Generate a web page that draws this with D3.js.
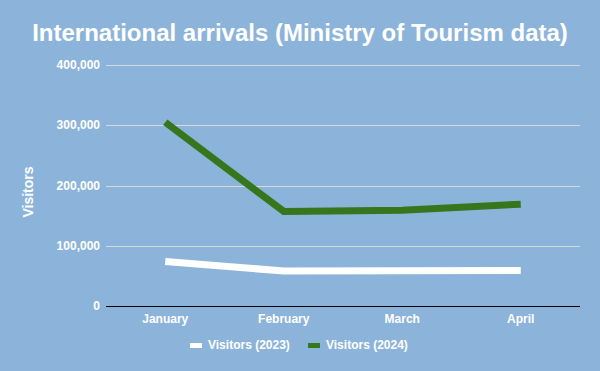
<!DOCTYPE html>
<html>
<head>
<meta charset="utf-8">
<script src="https://cdn.jsdelivr.net/npm/d3@7"></script>
<style>
  body { margin: 0; background: #8cb4da; }
  text { font-family: Arial, "Liberation Sans", sans-serif; fill: #fff; font-weight: bold; }
</style>
</head>
<body>
<svg id="chart" width="600" height="371"></svg>
<script>
const months = ['January', 'February', 'March', 'April'];
const visitors2023 = [74000, 58000, 58500, 59000];
const visitors2024 = [305000, 157000, 159000, 169000];
const yTicks = [0, 100000, 200000, 300000, 400000];
const seriesNames = ['Visitors (2023)', 'Visitors (2024)'];
const seriesColors = ['#ffffff', '#38761d'];

const width = 600, height = 371;
const padL = 106, padR = 20, padT = 65, padB = 65;

const svg = d3.select('#chart');

// background
svg.append('rect')
  .attr('width', width)
  .attr('height', height)
  .attr('fill', '#8cb4da');

const x = d3.scalePoint()
  .domain(months)
  .range([padL, width - padR])
  .padding(0.5);

const y = d3.scaleLinear()
  .domain([0, 400000])
  .range([height - padB, padT]);

// title
svg.append('text')
  .attr('x', width / 2)
  .attr('y', 41)
  .attr('text-anchor', 'middle')
  .style('font-size', '24px')
  .text('International arrivals (Ministry of Tourism data)');

// gridlines
svg.selectAll('.grid')
  .data(yTicks.filter(d => d > 0))
  .enter()
  .append('line')
  .attr('x1', padL)
  .attr('x2', width - padR)
  .attr('y1', d => Math.round(y(d)) + 0.5)
  .attr('y2', d => Math.round(y(d)) + 0.5)
  .attr('stroke', '#d9d9d9')
  .attr('stroke-width', 1);

// y labels
svg.selectAll('.ylab')
  .data(yTicks)
  .enter()
  .append('text')
  .attr('x', padL - 6)
  .attr('y', d => y(d) + 4)
  .attr('text-anchor', 'end')
  .style('font-size', '12px')
  .text(d => d3.format(',')(d));

// y title
svg.append('text')
  .attr('transform', 'translate(33,192) rotate(-90)')
  .attr('text-anchor', 'middle')
  .style('font-size', '14px')
  .text('Visitors');

// lines
const line = d3.line()
  .x((d, i) => x(months[i]))
  .y(d => y(d));

[visitors2023, visitors2024].forEach((s, k) => {
  svg.append('path')
    .datum(s)
    .attr('d', line)
    .attr('fill', 'none')
    .attr('stroke', seriesColors[k])
    .attr('stroke-width', 7)
    .attr('stroke-linejoin', 'miter');
});

// baseline
svg.append('line')
  .attr('x1', padL)
  .attr('x2', width - padR)
  .attr('y1', Math.round(y(0)) + 0.5)
  .attr('y2', Math.round(y(0)) + 0.5)
  .attr('stroke', '#000')
  .attr('stroke-width', 1);

// x labels
svg.selectAll('.xlab')
  .data(months)
  .enter()
  .append('text')
  .attr('x', d => x(d))
  .attr('y', height - padB + 17)
  .attr('text-anchor', 'middle')
  .style('font-size', '12px')
  .text(d => d);

// legend
const legendX = [190, 308];
const legend = svg.selectAll('.legend')
  .data(seriesNames)
  .enter()
  .append('g')
  .attr('transform', (d, i) => `translate(${legendX[i]},345)`);

legend.append('rect')
  .attr('x', 0)
  .attr('y', -2)
  .attr('width', 12)
  .attr('height', 5)
  .attr('fill', (d, i) => seriesColors[i]);

legend.append('text')
  .attr('x', 18)
  .attr('y', 4)
  .style('font-size', '12px')
  .text(d => d);
</script>
</body>
</html>
